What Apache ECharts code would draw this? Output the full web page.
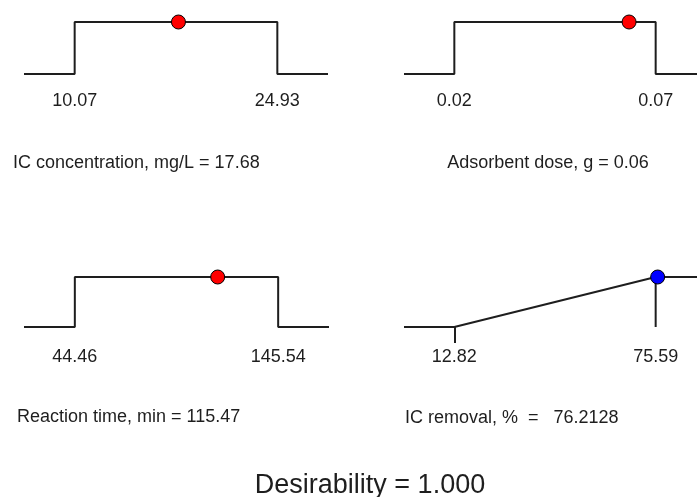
<!DOCTYPE html>
<html>
<head>
<meta charset="utf-8">
<script src="https://cdn.jsdelivr.net/npm/echarts@6/dist/echarts.min.js"></script>
<style>
	html, body { margin: 0; padding: 0; background: #fff; }
	#chart { width: 697px; height: 497px; }
</style>
</head>
<body>
<div id="chart"></div>
<script>
// ramp data (Design-Expert style desirability ramps)
var factorNames = ['IC concentration, mg/L', 'Adsorbent dose, g', 'Reaction time, min', 'IC removal, %'];
var lowLimits = [10.07, 0.02, 44.46, 12.82];
var highLimits = [24.93, 0.07, 145.54, 75.59];
var optimumValues = [17.68, 0.0634, 115.47, 76.2128];
var valueLabels = ['17.68', '0.06', '115.47', '76.2128'];
var goalTypes = ['range', 'range', 'range', 'maximize'];
var dotColors = ['#ff0000', '#ff0000', '#ff0000', '#0000ff'];
var overallDesirability = '1.000';

var FONT = 'Liberation Sans, Arial, sans-serif';
var INK = '#1e1e1e';

// panel layout [left, top, width, height]
var panels = [
	[24, 22, 304, 52],
	[404, 22, 302, 52],
	[24, 277, 305, 50],
	[404, 277, 302, 50]
];
var labelMargins = [18, 18, 21, 21];
// caption position [x, y, align]
var captions = [
	[13, 163, 'left'],
	[548, 163, 'center'],
	[17, 417, 'left'],
	[405, 418, 'left']
];
var captionSep = [' = ', ' = ', ' = ', '  =   '];

function axisRange(i) {
	var span = highLimits[i] - lowLimits[i];
	return [lowLimits[i] - span * 0.25, highLimits[i] + span * 0.25];
}

function rampLine(i) {
	var r = axisRange(i), lo = lowLimits[i], hi = highLimits[i];
	if (goalTypes[i] == 'maximize')
		return [[r[0], 0], [lo, 0], [hi, 1], [hi, 0], [hi, 1], [r[1], 1]];
	return [[r[0], 0], [lo, 0], [lo, 1], [hi, 1], [hi, 0], [r[1], 0]];
}

function desirability(i) {
	var v = optimumValues[i], lo = lowLimits[i], hi = highLimits[i];
	if (goalTypes[i] == 'maximize')
		return Math.max(0, Math.min(1, (v - lo) / (hi - lo)));
	return (v >= lo && v <= hi) ? 1 : 0;
}

var grids = [], xAxes = [], yAxes = [], series = [], graphics = [];
for (var i = 0; i < factorNames.length; i++) {
	var p = panels[i];
	var r = axisRange(i);
	grids.push({ left: p[0], top: p[1], width: p[2], height: p[3], outerBoundsMode: 'none', containLabel: false });
	xAxes.push({
		type: 'value', gridIndex: i, min: r[0], max: r[1],
		splitLine: { show: false },
		axisLine: { show: false },
		axisTick: goalTypes[i] == 'maximize'
			? { show: true, customValues: [lowLimits[i]], length: 16, lineStyle: { color: INK, width: 2 } }
			: { show: false },
		axisLabel: {
			customValues: [lowLimits[i], highLimits[i]],
			margin: labelMargins[i],
			color: INK,
			fontFamily: FONT,
			fontSize: 18,
			formatter: function (v) { return v.toFixed(2); }
		}
	});
	yAxes.push({ type: 'value', gridIndex: i, min: 0, max: 1, show: false });
	series.push({
		type: 'line', xAxisIndex: i, yAxisIndex: i,
		data: rampLine(i), symbol: 'none', clip: false, silent: true,
		lineStyle: { color: INK, width: 2 }
	});
	series.push({
		type: 'scatter', xAxisIndex: i, yAxisIndex: i,
		data: [[optimumValues[i], desirability(i)]],
		symbolSize: 14, clip: false, z: 5,
		itemStyle: { color: dotColors[i], borderColor: '#000', borderWidth: 1, opacity: 1 }
	});
	var c = captions[i];
	graphics.push({
		type: 'text', x: c[0], y: c[1],
		style: {
			text: factorNames[i] + captionSep[i] + valueLabels[i],
			fill: INK, font: '18px ' + FONT,
			align: c[2], verticalAlign: 'middle'
		}
	});
}
graphics.push({
	type: 'text', x: 370, y: 486,
	style: {
		text: 'Desirability = ' + overallDesirability,
		fill: INK, font: '27px ' + FONT,
		align: 'center', verticalAlign: 'middle'
	}
});

var chart = echarts.init(document.getElementById('chart'));
chart.setOption({
	animation: false,
	backgroundColor: '#fff',
	grid: grids,
	xAxis: xAxes,
	yAxis: yAxes,
	series: series,
	graphic: graphics
});
</script>
</body>
</html>
